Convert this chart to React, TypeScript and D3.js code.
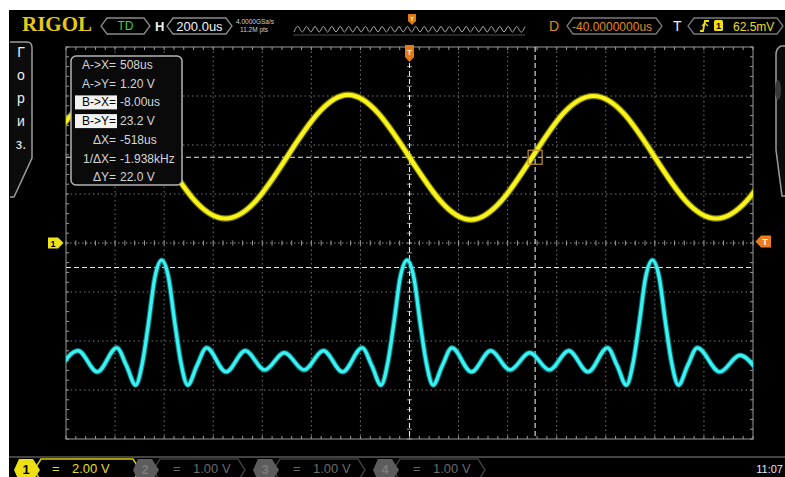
import * as d3 from "d3";

const W = 785;
const H = 477;
const M = { left: 66, right: 753, top: 47, bottom: 439 };

// 200us/div over 14 divisions, 8 vertical divisions
const timeRange = [-1400, 1400];
const ch1Range = [-8, 8]; // 2.00 V/div
const ch2Range = [-4, 4]; // 1.00 V/div

const ch1Time = [-1500, -1375, -1250, -1125, -1000, -875, -750, -625, -500, -375, -250, -125, 0, 125, 250, 375, 500, 625, 750, 875, 1000, 1125, 1250, 1375, 1500];
const ch1Volts = [3.5, 5.27, 6.0, 5.27, 3.5, 1.73, 1.0, 1.73, 3.5, 5.27, 6.05, 5.27, 3.5, 1.73, 0.95, 1.73, 3.5, 5.27, 6.0, 5.27, 3.5, 1.73, 1.0, 1.73, 3.5];

const ch2Time = [-1430, -1351, -1272, -1193, -1153, -1116, -1088, -1063, -1038, -1010, -982, -957, -932, -904, -867, -827, -748, -669, -590, -510, -430, -351, -272, -193, -153, -116, -88, -63, -38, -10, 18, 43, 68, 96, 133, 173, 252, 331, 410, 490, 570, 649, 728, 807, 847, 884, 912, 937, 962, 990, 1018, 1043, 1068, 1096, 1133, 1173, 1265, 1347, 1410];
const ch2Volts = [-2.59, -2.2, -2.63, -2.14, -2.51, -2.9, -2.43, -1.61, -0.71, -0.35, -0.71, -1.61, -2.43, -2.9, -2.51, -2.14, -2.63, -2.2, -2.59, -2.24, -2.59, -2.2, -2.63, -2.14, -2.51, -2.9, -2.43, -1.61, -0.71, -0.35, -0.71, -1.61, -2.43, -2.9, -2.51, -2.14, -2.63, -2.2, -2.59, -2.24, -2.59, -2.2, -2.63, -2.14, -2.51, -2.9, -2.43, -1.61, -0.71, -0.35, -0.71, -1.61, -2.43, -2.9, -2.51, -2.14, -2.63, -2.29, -2.55];

const cursorTimes = [0, 512]; // A, B
const cursorVolts = [3.5, -1.0]; // A, B (CH1)
const triggerLevel = 0.0625;

const readoutLabels = ["A->X=", "A->Y=", "B->X=", "B->Y=", "ΔX=", "1/ΔX=", "ΔY="];
const readoutValues = ["508us", "1.20 V", "-8.00us", "23.2 V", "-518us", "-1.938kHz", "22.0 V"];
const readoutHighlight = [false, false, true, true, false, false, false];

const menuLetters = ["Г", "о", "р", "и", "з."];

const channelNames = ["1", "2", "3", "4"];
const channelScales = ["2.00 V", "1.00 V", "1.00 V", "1.00 V"];
const channelActive = [true, false, false, false];

const SANS = "'Liberation Sans', Arial, sans-serif";

const chevron = (x0: number, y0: number, w: number, h: number, k = 6) =>
  `M${x0 + k},${y0} H${x0 + w - k} L${x0 + w},${y0 + h / 2} L${x0 + w - k},${y0 + h} H${x0 + k} L${x0},${y0 + h / 2} Z`;

export default function App() {
  const x = d3.scaleLinear().domain(timeRange).range([M.left, M.right]);
  const y1 = d3.scaleLinear().domain(ch1Range).range([M.bottom, M.top]);
  const y2 = d3.scaleLinear().domain(ch2Range).range([M.bottom, M.top]);

  const line1 = d3
    .line<number>()
    .x((_, i) => x(ch1Time[i]))
    .y((v) => y1(v))
    .curve(d3.curveNatural);
  const line2 = d3
    .line<number>()
    .x((_, i) => x(ch2Time[i]))
    .y((v) => y2(v))
    .curve(d3.curveMonotoneX);

  const majorT = d3.range(timeRange[0] + 200, timeRange[1], 200);
  const majorV = d3.range(ch1Range[0] + 2, ch1Range[1], 2);
  const minorT = d3.range(timeRange[0], timeRange[1] + 1, 40);
  const minorV = d3.range(ch1Range[0], ch1Range[1] + 0.01, 0.4);
  const cx = x(0);
  const cy = y1(0);

  // memory overview squiggle in the status bar
  const squiggle = d3
    .line<number>()
    .x((d) => 294 + d * 4.2)
    .y((d) => (d % 2 === 0 ? 32 : 26.5))
    .curve(d3.curveNatural)(d3.range(0, 56));

  const tags = channelNames.map((n, i) => {
    const x0 = i === 0 ? 14 : 133 + (i - 1) * 120;
    const active = channelActive[i];
    const col = active ? "#ecdf12" : "#5c5c5c";
    return (
      <g key={n}>
        <path d={chevron(x0 + 20, 459, i === 0 ? 106 : 92, 22, 7)} fill="none" stroke={active ? "#d8cc10" : "#3c3c3c"} strokeWidth={1.5} />
        <path d={`M${x0 + 5},459 H${x0 + 19} L${x0 + 26},470 L${x0 + 19},481 H${x0 + 5} L${x0},470 Z`} fill={col} />
        <text x={x0 + 12} y={474} fontSize={13} fontWeight="bold" fill={active ? "#000" : "#7a7a7a"} textAnchor="middle">
          {n}
        </text>
        <text x={x0 + (i === 0 ? 38 : 40)} y={473} fontSize={13} fill={active ? "#e8dc20" : "#6a6a6a"}>
          =
        </text>
        <text x={x0 + (i === 0 ? 58 : 60)} y={473} fontSize={13} fill={active ? "#e8dc20" : "#6a6a6a"}>
          {channelScales[i]}
        </text>
      </g>
    );
  });

  return (
    <svg width={W} height={H} style={{ position: "absolute", left: 0, top: 0 }} fontFamily={SANS}>
      <rect width={W} height={H} fill="#fff" />
      <rect x={9} y={10} width={W - 9} height={H - 10} fill="#000" />
      <defs>
        <clipPath id="plot">
          <rect x={M.left} y={M.top} width={M.right - M.left} height={M.bottom - M.top} />
        </clipPath>
      </defs>

      {/* top status bar */}
      <text x={22} y={31} fontFamily="'Liberation Serif', 'DejaVu Serif', serif" fontWeight="bold" fontSize={21} fill="#e6c81a">
        RIGOL
      </text>
      <path d={chevron(101, 18, 49, 16)} fill="none" stroke="#8a8a8a" strokeWidth={1.3} />
      <text x={125.5} y={30} fontSize={12} fill="#35d435" textAnchor="middle">TD</text>
      <text x={155} y={31} fontSize={13} fontWeight="bold" fill="#f0f0f0">H</text>
      <path d={chevron(167, 18, 65, 16)} fill="none" stroke="#8a8a8a" strokeWidth={1.3} />
      <text x={199.5} y={30.5} fontSize={13} fill="#f4f4f4" textAnchor="middle">200.0us</text>
      <text x={236} y={24} fontSize={6.5} fill="#d0d0d0">4.0000GSa/s</text>
      <text x={240} y={32} fontSize={6.5} fill="#d0d0d0">11.2M pts</text>
      <path d={squiggle ?? ""} fill="none" stroke="#b0b0b0" strokeWidth={1} />
      <path d="M293,35 H525" stroke="#4a4a4a" strokeWidth={1} />
      <path d="M408,14 H416 V21 L412,25 L408,21 Z" fill="#e07818" />
      <text x={412} y={21} fontSize={6} fill="#fff" textAnchor="middle" fontWeight="bold">T</text>
      <text x={549} y={31} fontSize={14} fill="#e08a1e">D</text>
      <path d={chevron(567, 18, 95, 16)} fill="none" stroke="#7a7a7a" strokeWidth={1.3} />
      <text x={572} y={30.5} fontSize={12} fill="#e08a1e">-40.0000000us</text>
      <text x={673} y={31} fontSize={14} fill="#f0f0f0">T</text>
      <path d={chevron(688, 18, 95, 16)} fill="none" stroke="#7a7a7a" strokeWidth={1.3} />
      <path d="M700,31 L703,31 L705,21 L709,21" fill="none" stroke="#f0e010" strokeWidth={1.8} />
      <path d="M702,26 L705,23 L708,26" fill="none" stroke="#f0e010" strokeWidth={1.2} />
      <rect x={714} y={20} width={9} height={11} rx={1.5} fill="#f0e010" />
      <text x={718.5} y={29} fontSize={9} fontWeight="bold" fill="#000" textAnchor="middle">1</text>
      <text x={733} y={30.5} fontSize={12} fill="#eadc20">62.5mV</text>

      {/* side menu tabs */}
      <path d="M10,42 H27 Q32,42 32,48 V158 L14,197 H10" fill="#0c0c0c" stroke="#9c9c9c" strokeWidth={1.5} />
      {menuLetters.map((l, i) => (
        <text key={l} x={21} y={57 + i * 23} fontSize={14} fill="#f0f0f0" textAnchor="middle">
          {l}
        </text>
      ))}
      <path d="M785,46 H781 Q776,48 776,55 V150 L782,196 H785" fill="#0c0c0c" stroke="#9c9c9c" strokeWidth={1.5} />
      <ellipse cx={778} cy={90} rx={3} ry={10} fill="#3a3a3a" />

      {/* graticule */}
      <g stroke="#747474" strokeWidth={1} strokeDasharray="1.5 3">
        {majorT.filter((t) => t !== 0).map((t) => (
          <line key={"v" + t} x1={x(t)} x2={x(t)} y1={M.top} y2={M.bottom} />
        ))}
        {majorV.filter((v) => v !== 0).map((v) => (
          <line key={"h" + v} x1={M.left} x2={M.right} y1={y1(v)} y2={y1(v)} />
        ))}
      </g>
      <line x1={M.left} x2={M.right} y1={cy} y2={cy} stroke="#8c8c8c" strokeDasharray="1.5 2.5" />
      <g stroke="#9a9a9a" strokeWidth={1}>
        <rect x={M.left} y={M.top} width={M.right - M.left} height={M.bottom - M.top} fill="none" />
        {minorT.map((t) => (
          <g key={"mt" + t}>
            <line x1={x(t)} x2={x(t)} y1={M.top} y2={M.top + 3} />
            <line x1={x(t)} x2={x(t)} y1={M.bottom - 3} y2={M.bottom} />
            <line x1={x(t)} x2={x(t)} y1={cy - 2.5} y2={cy + 2.5} />
          </g>
        ))}
        {minorV.map((v) => (
          <g key={"mv" + v}>
            <line x1={M.left} x2={M.left + 3} y1={y1(v)} y2={y1(v)} />
            <line x1={M.right - 3} x2={M.right} y1={y1(v)} y2={y1(v)} />
            <line x1={cx - 2.5} x2={cx + 2.5} y1={y1(v)} y2={y1(v)} />
          </g>
        ))}
      </g>

      {/* cursors */}
      <g stroke="#e6e6e6" strokeWidth={1.1} strokeDasharray="5 3">
        {cursorTimes.map((t) => (
          <line key={"ct" + t} x1={x(t)} x2={x(t)} y1={M.top} y2={M.bottom} />
        ))}
        {cursorVolts.map((v) => (
          <line key={"cv" + v} x1={M.left} x2={M.right} y1={y1(v)} y2={y1(v)} />
        ))}
      </g>

      {/* traces */}
      <g clipPath="url(#plot)" fill="none" strokeLinejoin="round" strokeLinecap="round">
        <path d={line2(ch2Volts) ?? ""} stroke="#0fb4bc" strokeOpacity={0.6} strokeWidth={5.5} />
        <path d={line2(ch2Volts) ?? ""} stroke="#3af2f2" strokeWidth={3.4} />
        <path d={line1(ch1Volts) ?? ""} stroke="#c6c400" strokeOpacity={0.6} strokeWidth={6.5} />
        <path d={line1(ch1Volts) ?? ""} stroke="#f8f41c" strokeWidth={4.2} />
      </g>

      <rect x={x(cursorTimes[1]) - 7} y={y1(cursorVolts[0]) - 7} width={14} height={14} fill="none" stroke="#c8902a" strokeWidth={1.2} />

      {/* markers */}
      <path d={`M${cx - 4.5},${M.top - 2} H${cx + 4.5} V${M.top + 10} L${cx},${M.top + 15} L${cx - 4.5},${M.top + 10} Z`} fill="#e87a14" />
      <text x={cx} y={M.top + 8} fontSize={8} fontWeight="bold" fill="#fff6e0" textAnchor="middle">T</text>
      <path d={`M48,${y1(0) - 5.5} H58 L63.5,${y1(0)} L58,${y1(0) + 5.5} H48 Z`} fill="#eee41a" />
      <text x={53} y={y1(0) + 3.5} fontSize={9} fontWeight="bold" fill="#000" textAnchor="middle">1</text>
      <path d={`M771,${y1(triggerLevel) - 6} H761 L755.5,${y1(triggerLevel)} L761,${y1(triggerLevel) + 6} H771 Z`} fill="#ea7e1c" />
      <text x={765} y={y1(triggerLevel) + 3.5} fontSize={9} fontWeight="bold" fill="#fff" textAnchor="middle">T</text>

      {/* cursor readout */}
      <rect x={71} y={56} width={111} height={129} rx={5} fill="#0a0a0a" stroke="#b4b4b4" strokeWidth={1.5} />
      {readoutLabels.map((l, i) => {
        const by = 69 + i * 18.7;
        return (
          <g key={l}>
            {readoutHighlight[i] && <rect x={75} y={by - 11} width={42} height={14} fill="#f2f2f2" />}
            <text x={116} y={by} fontSize={12} fill={readoutHighlight[i] ? "#000" : "#d6d6d6"} textAnchor="end">
              {l}
            </text>
            <text x={120} y={by} fontSize={12} fill="#d6d6d6">
              {readoutValues[i]}
            </text>
          </g>
        );
      })}

      {/* bottom channel bar */}
      <line x1={9} x2={W} y1={457} y2={457} stroke="#5a5a5a" strokeWidth={1.5} />
      {tags}
      <text x={783} y={473} fontSize={11} fill="#e8e8e8" textAnchor="end">11:07</text>
    </svg>
  );
}
